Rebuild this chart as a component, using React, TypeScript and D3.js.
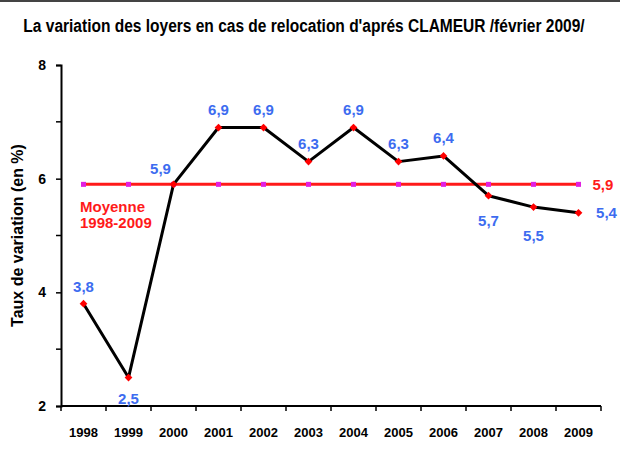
import React, { useEffect, useRef } from "react";
import * as d3 from "d3";

const years = ["1998", "1999", "2000", "2001", "2002", "2003", "2004", "2005", "2006", "2007", "2008", "2009"];
const rates = [3.8, 2.5, 5.9, 6.9, 6.9, 6.3, 6.9, 6.3, 6.4, 5.7, 5.5, 5.4];
const average = 5.9;
const yTicks = [2, 4, 6, 8];
const yMinorTicks = [3, 5, 7];
const averageLabel = ["Moyenne", "1998-2009"];

// label placement per point: [dx, dy]
const labelOffsets: [number, number][] = [
  [0, -12], [0, 26], [-13, -10], [0, -13], [0, -13], [0, -13],
  [0, -13], [0, -13], [0, -13], [0, 30], [0, 34], [28, 5],
];

const App: React.FC = () => {
  const ref = useRef<SVGSVGElement | null>(null);

  useEffect(() => {
    const svg = d3.select(ref.current);
    svg.selectAll("*").remove();

    const left = 61, right = 601, top = 65, bottom = 406;
    const font = "Liberation Sans, Arial, sans-serif";

    const x = d3.scaleBand().domain(years).range([left, right]);
    const cx = (d: string) => x(d)! + x.bandwidth() / 2;
    const y = d3.scaleLinear().domain([2, 8]).range([bottom, top]);

    svg.append("rect").attr("width", 620).attr("height", 465).attr("fill", "#fff");
    svg.append("rect").attr("width", 620).attr("height", 2).attr("fill", "#444");

    // Title (condensed by a horizontal scale, like the narrow face of the original)
    svg.append("text")
      .attr("transform", "translate(304,32) scale(0.97,1.1)")
      .attr("text-anchor", "middle")
      .style("font-family", font).style("font-weight", "bold").style("font-size", "16px")
      .text("La variation des loyers  en cas  de relocation d'aprés CLAMEUR /février 2009/");

    // Y axis
    const gy = svg.append("g").attr("transform", `translate(${left},0)`);
    gy.call(d3.axisLeft(y).tickValues(yTicks).tickSize(5).tickFormat(d3.format("d")) as any);
    gy.select(".domain").attr("stroke", "#000").attr("stroke-width", 2);
    gy.selectAll(".tick line").attr("stroke-width", 1.5);
    gy.selectAll(".tick text")
      .style("font-family", font).style("font-weight", "bold").style("font-size", "14px").attr("x", -15);
    gy.selectAll(".minor").data(yMinorTicks).join("line")
      .attr("x1", -5).attr("x2", 0)
      .attr("y1", (d) => y(d)).attr("y2", (d) => y(d))
      .attr("stroke", "#000").attr("stroke-width", 1.5);

    svg.append("text")
      .attr("transform", `translate(23,${(top + bottom) / 2}) rotate(-90)`)
      .attr("text-anchor", "middle")
      .style("font-family", font).style("font-weight", "bold").style("font-size", "16px")
      .text("Taux de variation (en %)");

    // X axis
    svg.append("line")
      .attr("x1", left).attr("x2", right).attr("y1", bottom).attr("y2", bottom)
      .attr("stroke", "#000").attr("stroke-width", 2);
    const bounds = [...years.map((d) => x(d)!), right];
    svg.selectAll(".xtick").data(bounds).join("line")
      .attr("x1", (d) => d).attr("x2", (d) => d)
      .attr("y1", bottom).attr("y2", bottom + 5)
      .attr("stroke", "#000").attr("stroke-width", 1.5);
    svg.selectAll(".xlab").data(years).join("text")
      .attr("x", (d) => cx(d)).attr("y", bottom + 31)
      .attr("text-anchor", "middle")
      .style("font-family", font).style("font-weight", "bold").style("font-size", "13px")
      .text((d) => d);

    // Average line
    svg.append("line")
      .attr("x1", cx(years[0])).attr("x2", cx(years[years.length - 1]))
      .attr("y1", y(average)).attr("y2", y(average))
      .attr("stroke", "#ff1a1a").attr("stroke-width", 3);
    svg.selectAll(".avgpt").data(years).join("rect")
      .attr("x", (d) => cx(d) - 2.5).attr("y", y(average) - 2.5)
      .attr("width", 5).attr("height", 5)
      .attr("fill", "#e020e0");
    svg.append("text")
      .attr("x", cx(years[years.length - 1]) + 14).attr("y", y(average) + 6)
      .style("font-family", font).style("font-weight", "bold").style("font-size", "15px")
      .attr("fill", "#ff1a1a")
      .text(String(average).replace(".", ","));
    svg.selectAll(".moy").data(averageLabel).join("text")
      .attr("x", 80).attr("y", (d, i) => 212 + i * 16)
      .style("font-family", font).style("font-weight", "bold").style("font-size", "15px")
      .attr("fill", "#ff1a1a")
      .text((d) => d);

    // Data line
    const line = d3.line<number>().x((_, i) => cx(years[i])).y((d) => y(d));
    svg.append("path")
      .datum(rates)
      .attr("d", line)
      .attr("fill", "none")
      .attr("stroke", "#000")
      .attr("stroke-width", 3)
      .attr("stroke-linejoin", "round");
    svg.selectAll(".pt").data(rates).join("path")
      .attr("d", d3.symbol(d3.symbolSquare, 30))
      .attr("transform", (d, i) => `translate(${cx(years[i])},${y(d)}) rotate(45)`)
      .attr("fill", "#ff0000");
    svg.selectAll(".val").data(rates).join("text")
      .attr("x", (d, i) => cx(years[i]) + labelOffsets[i][0])
      .attr("y", (d, i) => y(d) + labelOffsets[i][1])
      .attr("text-anchor", "middle")
      .style("font-family", font).style("font-weight", "bold").style("font-size", "15px")
      .attr("fill", "#3d6cf0")
      .text((d) => String(d).replace(".", ","));
  }, []);

  return <svg ref={ref} width={620} height={465} style={{ position: "absolute", left: 0, top: 0 }} />;
};

export default App;
